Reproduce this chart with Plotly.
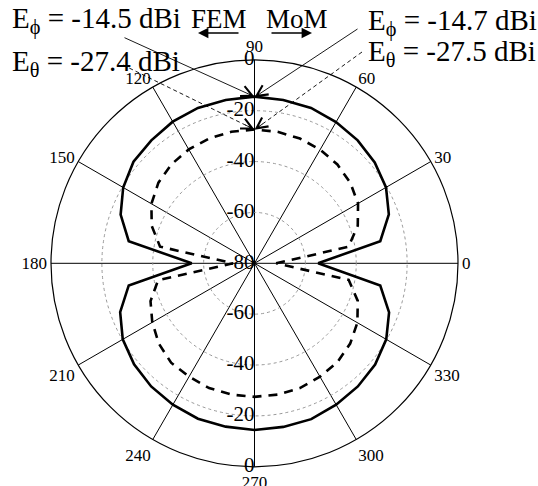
import plotly.graph_objects as go

# Far-field pattern cut, 10 degree steps (degrees, dB)
theta_deg = list(range(0, 370, 10))

e_phi = [-55.0, -29.8, -23.8, -20.3, -18.3, -16.9, -15.9, -15.0, -14.8, -14.5,
         -14.8, -15.0, -15.7, -16.9, -17.9, -20.4, -24.0, -29.8, -55.3,
         -29.8, -23.8, -20.2, -18.2, -16.8, -15.8, -15.0, -14.8, -14.5,
         -14.7, -14.8, -15.8, -16.8, -18.1, -20.2, -23.7, -29.8, -55.0]

e_theta = [-71.5, -42.5, -36.8, -33.0, -30.8, -29.3, -28.4, -27.8, -27.5, -27.4,
           -27.5, -27.8, -28.3, -29.2, -30.7, -33.2, -37.0, -42.3, -71.5,
           -41.5, -36.5, -33.6, -30.9, -29.0, -28.6, -27.8, -27.6, -27.5,
           -27.6, -27.8, -28.5, -29.3, -30.9, -33.3, -36.8, -42.4, -71.5]

radial_ticks = [0, -20, -40, -60, -80]
radial_ticks_low = [-60, -40, -20, 0]
angle_ticks = list(range(0, 360, 30))

peak_labels = {
    "fem_phi": -14.5, "fem_theta": -27.4,
    "mom_phi": -14.7, "mom_theta": -27.5,
}

W, H = 538, 486
SERIF = "Liberation Serif"

# polar area geometry (pixels)
CX, CY, RAD = 254.5, 263.3, 203.5
R_MIN, R_MAX = -80, 0


def px_to_paper(x, y):
    return x / W, 1 - y / H


def top_point(value):
    """Pixel position of a value on the 90 degree spoke."""
    rr = (value - R_MIN) / (R_MAX - R_MIN) * RAD
    return CX, CY - rr


fig = go.Figure()

fig.add_trace(go.Scatterpolar(
    r=e_phi, theta=theta_deg, mode="lines",
    line=dict(color="black", width=2.6), showlegend=False,
))
fig.add_trace(go.Scatterpolar(
    r=e_theta, theta=theta_deg, mode="lines",
    line=dict(color="black", width=2.6, dash="9px,7px"), showlegend=False,
))

# dB labels along the vertical spoke
fig.add_trace(go.Scatterpolar(
    r=radial_ticks, theta=[90] * len(radial_ticks), mode="text",
    text=[str(v) for v in radial_ticks], textposition="middle left",
    textfont=dict(family=SERIF, size=21, color="black"),
    cliponaxis=False, showlegend=False, hoverinfo="skip",
))
fig.add_trace(go.Scatterpolar(
    r=radial_ticks_low, theta=[270] * len(radial_ticks_low), mode="text",
    text=[str(v) for v in radial_ticks_low], textposition="middle left",
    textfont=dict(family=SERIF, size=21, color="black"),
    cliponaxis=False, showlegend=False, hoverinfo="skip",
))

x0, y0 = px_to_paper(CX - RAD, CY + RAD)
x1, y1 = px_to_paper(CX + RAD, CY - RAD)

fig.update_layout(
    width=W, height=H,
    margin=dict(l=0, r=0, t=0, b=0),
    paper_bgcolor="white", plot_bgcolor="white",
    font=dict(family=SERIF, color="black"),
    polar=dict(
        domain=dict(x=[x0, x1], y=[y0, y1]),
        bgcolor="white",
        radialaxis=dict(
            range=[R_MIN, R_MAX], tickvals=radial_ticks, showticklabels=False,
            ticks="", showline=False, gridcolor="#999999", griddash="dot",
            gridwidth=1,
        ),
        angularaxis=dict(
            rotation=0, direction="counterclockwise",
            tickvals=angle_ticks, ticktext=[str(a) for a in angle_ticks],
            ticks="", showline=True, linecolor="black", linewidth=1.2,
            gridcolor="black", gridwidth=1,
            tickfont=dict(family=SERIF, size=17, color="black"),
        ),
    ),
)

ann = []
shapes = []

# header texts
def text_at(px, py, txt, size=29, anchor="left"):
    x, y = px_to_paper(px, py)
    ann.append(dict(x=x, y=y, xref="paper", yref="paper", text=txt,
                    showarrow=False, xanchor=anchor, yanchor="middle",
                    font=dict(family=SERIF, size=size, color="black")))

text_at(10, 20, "E<sub>ϕ</sub> = %.1f dBi" % peak_labels["fem_phi"])
text_at(10, 63, "E<sub>θ</sub> = %.1f dBi" % peak_labels["fem_theta"])
text_at(366, 22, "E<sub>ϕ</sub> = %.1f dBi" % peak_labels["mom_phi"])
text_at(366, 53, "E<sub>θ</sub> = %.1f dBi" % peak_labels["mom_theta"])
text_at(219, 19, "FEM", anchor="center", size=27)
text_at(297, 19, "MoM", anchor="center", size=27)

# direction arrows under FEM / MoM
for tail, tip in [((240, 33), (198, 33)), ((270, 33), (312, 33))]:
    x, y = px_to_paper(*tip)
    ann.append(dict(x=x, y=y, xref="paper", yref="paper", text="",
                    showarrow=True, ax=tail[0] - tip[0], ay=tail[1] - tip[1],
                    arrowhead=2, arrowsize=1.3, arrowwidth=1.6,
                    arrowcolor="black"))

# pointers from the header values to the pattern peaks
pointers = [
    ((123, 37), top_point(peak_labels["fem_phi"]), False),
    ((123, 65), top_point(peak_labels["fem_theta"]), True),
    ((359, 28), top_point(peak_labels["mom_phi"]), False),
    ((362, 52), top_point(peak_labels["mom_theta"]), True),
]
for tail, tip, dashed in pointers:
    tx, ty = px_to_paper(*tip)
    if dashed:
        sx, sy = px_to_paper(*tail)
        shapes.append(dict(type="line", xref="paper", yref="paper",
                           x0=sx, y0=sy, x1=tx, y1=ty,
                           line=dict(color="black", width=0.9, dash="4px,3px")))
        dx, dy = tail[0] - tip[0], tail[1] - tip[1]
        n = (dx * dx + dy * dy) ** 0.5
        ann.append(dict(x=tx, y=ty, xref="paper", yref="paper", text="",
                        showarrow=True, ax=dx / n * 12, ay=dy / n * 12,
                        arrowhead=5, arrowsize=2.4, arrowwidth=0.9,
                        arrowcolor="black"))
    else:
        ann.append(dict(x=tx, y=ty, xref="paper", yref="paper", text="",
                        showarrow=True, ax=tail[0] - tip[0], ay=tail[1] - tip[1],
                        arrowhead=5, arrowsize=2.4, arrowwidth=0.9,
                        arrowcolor="black"))

fig.update_layout(annotations=ann, shapes=shapes)

fig.write_html("out.html")
